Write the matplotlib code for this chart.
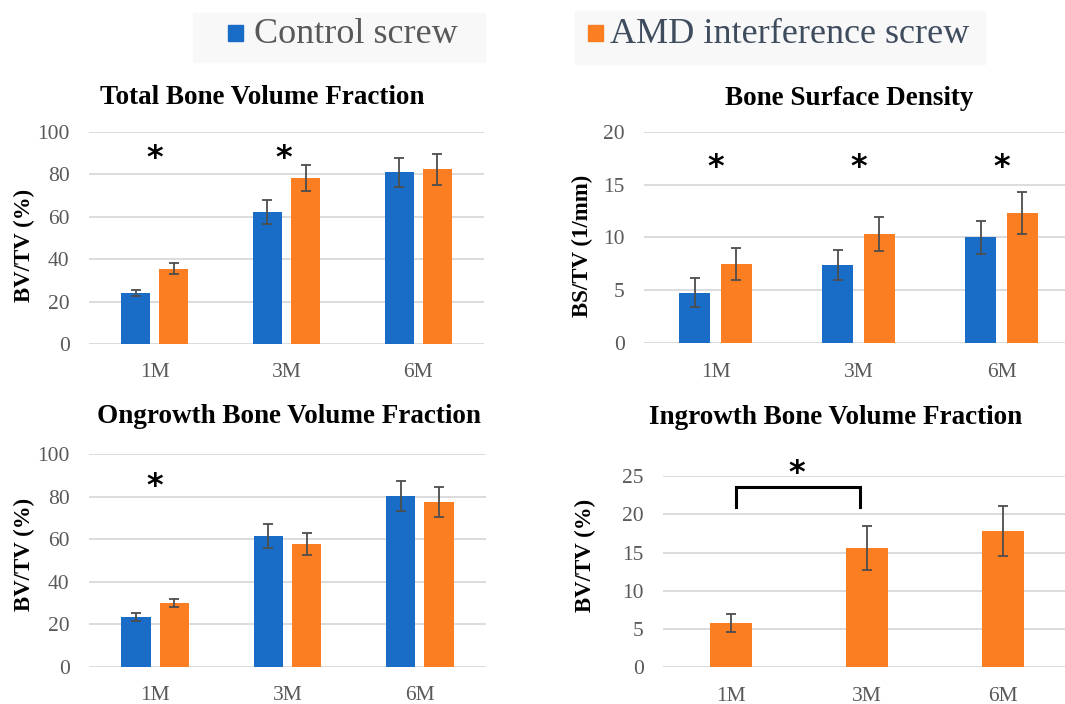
import numpy as np
import matplotlib
matplotlib.use("Agg")
import matplotlib.pyplot as plt
from matplotlib.patches import Rectangle

# ========================================
# Data
# ========================================

months = ["1M", "3M", "6M"]

total_ctrl = [24.2, 62.2, 80.8]
total_ctrl_err = [1.4, 5.5, 7.0]
total_amd = [35.5, 78.0, 82.3]
total_amd_err = [2.6, 6.1, 7.2]

surface_ctrl = [4.8, 7.4, 10.0]
surface_ctrl_err = [1.35, 1.4, 1.6]
surface_amd = [7.5, 10.3, 12.3]
surface_amd_err = [1.55, 1.6, 2.0]

ongrowth_ctrl = [23.5, 61.5, 80.4]
ongrowth_ctrl_err = [2.0, 5.5, 7.0]
ongrowth_amd = [30.1, 57.9, 77.6]
ongrowth_amd_err = [2.0, 5.2, 7.0]

ingrowth_amd = [5.8, 15.6, 17.8]
ingrowth_amd_err = [1.2, 2.9, 3.3]

# ========================================
# Style
# ========================================

BLUE = "#1A6DC6"
ORANGE = "#FB7E23"
GRID = "#D9D9D9"
TICK = "#595959"
ERR = "#4D4D4D"
SERIF = ["Liberation Serif", "DejaVu Serif"]

plt.rcParams["font.family"] = SERIF

W, H = 1065, 704
fig = plt.figure(figsize=(W / 100, H / 100), dpi=100)


def px_axes(left, right, bottom, top):
    # pixel box -> figure fraction axes
    return fig.add_axes([left / W, 1 - bottom / H, (right - left) / W, (bottom - top) / H])


def style_axes(ax, ymax, step):
    ax.set_xlim(-0.5, 2.5)
    ax.set_ylim(0, ymax)
    ax.set_yticks(np.arange(0, ymax + 0.1, step))
    ax.set_xticks(range(len(months)))
    ax.set_xticklabels(months)
    for s in ax.spines.values():
        s.set_visible(False)
    ax.grid(axis="y", color=GRID, linewidth=1.3)
    ax.set_axisbelow(True)
    ax.tick_params(axis="both", length=0, labelsize=15.5, colors=TICK)
    ax.tick_params(axis="y", pad=14)
    ax.tick_params(axis="x", pad=14)


def paired_bars(ax, ctrl, ctrl_err, amd, amd_err):
    x = np.arange(len(months))
    w, off = 0.22, 0.145
    ekw = dict(ecolor=ERR, elinewidth=1.3, capsize=3.5, capthick=1.3)
    ax.bar(x - off, ctrl, w, color=BLUE, yerr=ctrl_err, error_kw=ekw, zorder=2)
    ax.bar(x + off, amd, w, color=ORANGE, yerr=amd_err, error_kw=ekw, zorder=2)


def star(ax, x, y):
    ax.text(x, y, "*", ha="center", va="center", fontsize=23, fontweight="bold",
            color="black", family=["DejaVu Sans"])


# ---- Total Bone Volume Fraction
ax1 = px_axes(89, 484, 344, 131.7)
style_axes(ax1, 100, 20)
paired_bars(ax1, total_ctrl, total_ctrl_err, total_amd, total_amd_err)
star(ax1, 0, 87.5)
star(ax1, 0.98, 87.5)

# ---- Bone Surface Density
ax2 = px_axes(644, 1073, 343.3, 131.7)
style_axes(ax2, 20, 5)
paired_bars(ax2, surface_ctrl, surface_ctrl_err, surface_amd, surface_amd_err)
for i in range(3):
    star(ax2, i, 16.6)

# ---- Ongrowth Bone Volume Fraction
ax3 = px_axes(89, 486, 666.7, 454.3)
style_axes(ax3, 100, 20)
paired_bars(ax3, ongrowth_ctrl, ongrowth_ctrl_err, ongrowth_amd, ongrowth_amd_err)
star(ax3, 0, 85)

# ---- Ingrowth Bone Volume Fraction
ax4 = px_axes(663, 1071, 667.3, 476)
style_axes(ax4, 25, 5)
ax4.bar(np.arange(3), ingrowth_amd, 0.31, color=ORANGE, yerr=ingrowth_amd_err,
        error_kw=dict(ecolor=ERR, elinewidth=1.3, capsize=3.5, capthick=1.3), zorder=2)
ax4.plot([0.04, 0.04, 0.95, 0.95], [20.9, 23.5, 23.5, 20.9], color="black",
         linewidth=2.2, clip_on=False, solid_joinstyle="miter")
star(ax4, 0.48, 25.3)

# ---- titles and y labels
titles = [("Total Bone Volume Fraction", 262, 104),
          ("Bone Surface Density", 849, 105),
          ("Ongrowth Bone Volume Fraction", 289, 423),
          ("Ingrowth Bone Volume Fraction", 836, 424)]
for txt, x, y in titles:
    fig.text(x / W, 1 - y / H, txt, ha="center", va="baseline", fontsize=19.5,
             fontweight="bold", color="black")

ylabels = [("BV/TV (%)", 24, 245), ("BS/TV (1/mm)", 582, 246),
           ("BV/TV (%)", 24, 554), ("BV/TV (%)", 585, 555)]
for txt, x, y in ylabels:
    fig.text(x / W, 1 - y / H, txt, ha="center", va="center", rotation=90,
             fontsize=16.5, fontweight="bold", color="black")

# ---- legend drawn as figure artists
fig.patches.append(Rectangle((193 / W, 1 - 62 / H), 292 / W, 49 / H,
                             transform=fig.transFigure, color="#F8F8F8", zorder=0))
fig.patches.append(Rectangle((575 / W, 1 - 64 / H), 410 / W, 53 / H,
                             transform=fig.transFigure, color="#F8F8F8", zorder=0))
fig.patches.append(Rectangle((228 / W, 1 - 41 / H), 15 / W, 16 / H,
                             transform=fig.transFigure, color=BLUE))
fig.patches.append(Rectangle((588 / W, 1 - 41 / H), 15 / W, 16 / H,
                             transform=fig.transFigure, color=ORANGE))
fig.text(254 / W, 1 - 43 / H, "Control screw", ha="left", va="baseline",
         fontsize=26, color="#595959")
fig.text(610 / W, 1 - 43 / H, "AMD interference screw", ha="left", va="baseline",
         fontsize=26, color="#3E4C5E")

fig.savefig("out.png", dpi=100)
